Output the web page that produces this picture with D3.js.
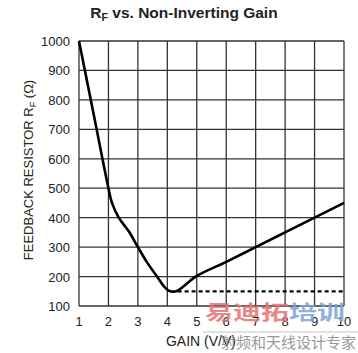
<!DOCTYPE html>
<html>
<head>
<meta charset="utf-8">
<title>RF vs. Non-Inverting Gain</title>
<script src="https://d3js.org/d3.v7.min.js"></script>
<style>
    body { margin: 0; background: #fff; }
    svg text { font-family: "Liberation Sans", Arial, sans-serif; fill: #222; }
</style>
</head>
<body>
<svg id="chart"></svg>
<script>
    // data
    var gain = [1, 1.5, 2, 2.12, 2.35, 2.7, 3.0, 3.3, 3.65, 3.9, 4.05, 4.3, 5, 6, 7, 8, 9, 10];
    var rf = [1000, 750, 500, 450, 400, 352, 300, 250, 200, 165, 152, 150, 202, 250, 300, 350, 400, 450];
    var minGain = [4.35, 10];
    var minRf = [150, 150];
    var xTicks = [1, 2, 3, 4, 5, 6, 7, 8, 9, 10];
    var yTicks = [100, 200, 300, 400, 500, 600, 700, 800, 900, 1000];

    var W = 358, H = 353;
    var svg = d3.select("#chart").attr("width", W).attr("height", H);

    var x = d3.scaleLinear().domain([1, 10]).range([79, 344]);
    var y = d3.scaleLinear().domain([100, 1000]).range([306, 41]);

    // title
    var t = svg.append("text")
        .attr("x", 184).attr("y", 18)
        .attr("text-anchor", "middle")
        .style("font-size", "15.5px").style("font-weight", "bold");
    t.append("tspan").text("R");
    t.append("tspan").attr("dy", 3).style("font-size", "10.5px").text("F");
    t.append("tspan").attr("dy", -3).text(" vs. Non-Inverting Gain");

    // grid
    var grid = svg.append("g").attr("stroke", "#333").attr("stroke-width", 1.3);
    grid.selectAll(".vx").data(xTicks).enter().append("line")
        .attr("x1", d => x(d)).attr("x2", d => x(d))
        .attr("y1", y(100)).attr("y2", y(1000));
    grid.selectAll(".hy").data(yTicks).enter().append("line")
        .attr("x1", x(1)).attr("x2", x(10))
        .attr("y1", d => y(d)).attr("y2", d => y(d));

    // tick labels
    svg.selectAll(".xl").data(xTicks).enter().append("text")
        .attr("x", d => x(d)).attr("y", 326)
        .attr("text-anchor", "middle").style("font-size", "13px")
        .text(d => d);
    svg.selectAll(".yl").data(yTicks).enter().append("text")
        .attr("x", 70).attr("y", d => y(d) + 5)
        .attr("text-anchor", "end").style("font-size", "13px")
        .text(d => d);

    // axis titles
    svg.append("text")
        .attr("x", 201).attr("y", 346)
        .attr("text-anchor", "middle").style("font-size", "14px")
        .text("GAIN (V/V)");
    var yt = svg.append("text")
        .attr("transform", "translate(33,170) rotate(-90)")
        .attr("text-anchor", "middle").style("font-size", "13px");
    yt.append("tspan").text("FEEDBACK RESISTOR R");
    yt.append("tspan").attr("dy", 3).style("font-size", "9px").text("F");
    yt.append("tspan").attr("dy", -3).text(" (\u03A9)");

    // curves
    var pts = gain.map((g, i) => [g, rf[i]]);
    var line = d3.line().x(d => x(d[0])).y(d => y(d[1])).curve(d3.curveCatmullRom);
    svg.append("path").datum(pts)
        .attr("d", line)
        .attr("fill", "none").attr("stroke", "#000").attr("stroke-width", 2.6);

    var dpts = minGain.map((g, i) => [g, minRf[i]]);
    svg.append("path").datum(dpts)
        .attr("d", d3.line().x(d => x(d[0])).y(d => y(d[1])))
        .attr("fill", "none").attr("stroke", "#000").attr("stroke-width", 2.2)
        .attr("stroke-dasharray", "4,3");

    // watermark
    var wm = svg.append("g").attr("opacity", 0.85);
    wm.append("line").attr("x1", 203).attr("x2", 358).attr("y1", 332).attr("y2", 332)
        .attr("stroke", "#bbb").attr("stroke-width", 1);
    var w1 = wm.append("text")
        .attr("transform", "translate(205,320) scale(1,0.72)")
        .style("font-size", "28px").style("font-weight", "bold")
        .style("font-family", "Noto Sans CJK SC");
    w1.append("tspan").style("fill", "#e57373").text("易迪拓");
    w1.append("tspan").style("fill", "#7fa3d6").text("培训");
    wm.append("text").attr("x", 221).attr("y", 348)
        .style("font-size", "15px").style("fill", "#888")
        .style("font-family", "Noto Sans CJK SC")
        .text("射频和天线设计专家");
</script>
</body>
</html>
